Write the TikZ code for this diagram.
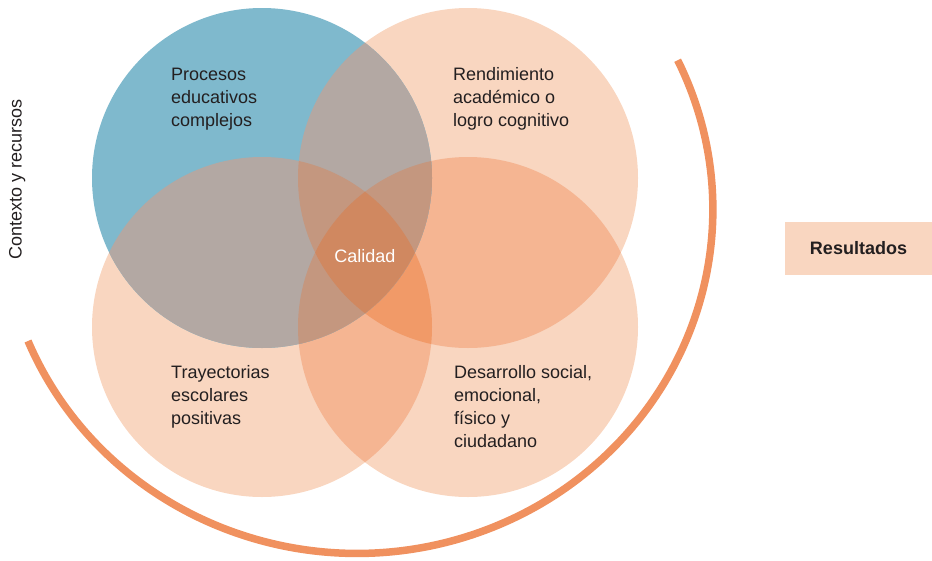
\documentclass[tikz,border=0pt]{standalone}
\usepackage{fontspec}
\setmainfont{Liberation Sans}
\definecolor{cblue}{RGB}{127,185,205}
\definecolor{cone}{RGB}{249,214,192}
\definecolor{ctwo}{RGB}{245,181,146}
\definecolor{cthree}{RGB}{241,154,104}
\definecolor{gone}{RGB}{179,168,163}
\definecolor{gtwo}{RGB}{196,151,127}
\definecolor{gthree}{RGB}{208,136,96}
\definecolor{arcc}{RGB}{240,145,95}
\definecolor{txt}{RGB}{35,31,32}
\tikzset{
  lbl/.style={anchor=base west, inner sep=0pt, align=left, text=txt,
    font=\fontsize{18}{23}\selectfont},
}
\begin{document}
\begin{tikzpicture}[x=1pt,y=-1pt]
\useasboundingbox (0,0) rectangle (932,560);
\coordinate (cB) at (262,178);
\coordinate (cTR) at (468,178);
\coordinate (cBL) at (262,327);
\coordinate (cBR) at (468,327);
% single peach circles
\foreach \c in {cTR,cBL,cBR} \fill[cone] (\c) circle[radius=170];
% peach pairs
\foreach \a/\b in {cTR/cBR,cBL/cBR,cTR/cBL}{
  \begin{scope}\clip (\a) circle[radius=170]; \fill[ctwo] (\b) circle[radius=170];\end{scope}}
% peach triple
\begin{scope}\clip (cTR) circle[radius=170]; \clip (cBL) circle[radius=170];
  \fill[cthree] (cBR) circle[radius=170];\end{scope}
% blue circle
\fill[cblue] (cB) circle[radius=170];
\begin{scope}\clip (cB) circle[radius=170];
  \foreach \c in {cTR,cBL,cBR} \fill[gone] (\c) circle[radius=170];
  \foreach \a/\b in {cTR/cBR,cBL/cBR,cTR/cBL}{
    \begin{scope}\clip (\a) circle[radius=170]; \fill[gtwo] (\b) circle[radius=170];\end{scope}}
  \clip (cTR) circle[radius=170]; \clip (cBL) circle[radius=170];
  \fill[gthree] (cBR) circle[radius=170];
\end{scope}
% big arc
\coordinate (arcstart) at (28,341);
\draw[arcc, line width=7.5pt] (arcstart) arc[start angle=157.5, end angle=-25.7, x radius=356, y radius=344];
% labels
\node[lbl] (t1) at (171,126) {Procesos\\educativos\\complejos};
\node[lbl] (t2) at (453,126) {Rendimiento\\académico o\\logro cognitivo};
\node[lbl] (t3) at (171,424) {Trayectorias\\escolares\\positivas};
\node[lbl] (t4) at (454,447) {Desarrollo social,\\emocional,\\físico y\\ciudadano};
\node[anchor=base, inner sep=0pt, text=white, font=\fontsize{18}{23}\selectfont] (cal) at (365,262) {Calidad};
\node[anchor=base, inner sep=0pt, rotate=90, text=txt, font=\fontsize{18}{23}\selectfont] (ctx) at (21.5,179.5) {Contexto y recursos};
\node[fill=cone, minimum width=147pt, minimum height=53pt, inner sep=0pt, text=txt,
  font=\fontsize{18}{23}\selectfont\bfseries] (res) at (858.5,248.5) {Resultados};
\end{tikzpicture}
\end{document}
